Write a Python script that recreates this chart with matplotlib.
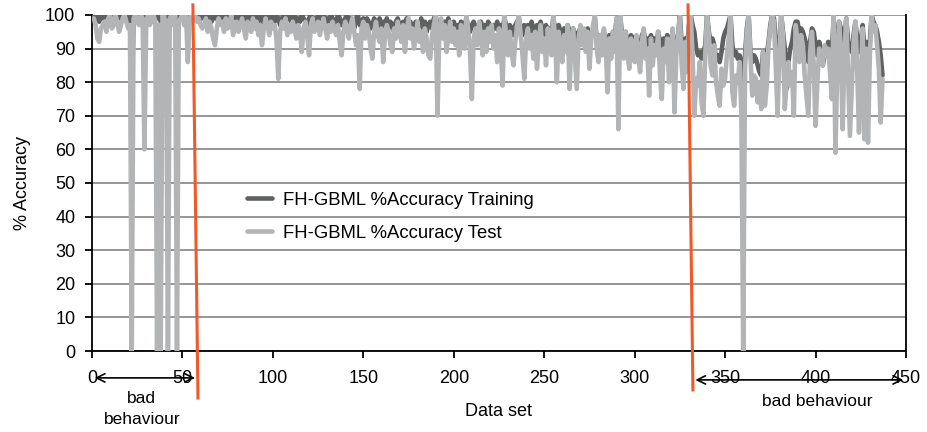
import numpy as np
import matplotlib
matplotlib.use('Agg')
import matplotlib.pyplot as plt

plt.rcParams['font.family'] = ['Liberation Sans', 'DejaVu Sans']

# %accuracy per data set, data sets 1..437
test = [99, 97, 93, 92, 96, 97, 98, 95, 99, 100,
        96, 97, 100, 98, 95, 97, 99, 100, 98, 96,
        97, 0, 99, 100, 98, 97, 100, 99, 60, 98,
        100, 97, 99, 100, 98, 0, 97, 0, 100, 99,
        98, 0, 99, 100, 97, 100, 0, 98, 99, 100,
        97, 100, 86, 98, 100, 99, 100, 98, 99, 97,
        96, 97, 99, 95, 98, 96, 93, 91, 96, 99,
        97, 98, 95, 99, 96, 97, 100, 94, 96, 98,
        95, 97, 99, 96, 93, 98, 97, 95, 99, 96,
        98, 94, 97, 91, 96, 99, 97, 94, 98, 96,
        97, 93, 81, 95, 98, 96, 99, 94, 97, 95,
        98, 96, 93, 97, 95, 89, 96, 98, 94, 88,
        97, 99, 95, 96, 98, 94, 97, 99, 96, 93,
        97, 95, 98, 96, 94, 97, 92, 88, 95, 98,
        96, 93, 97, 99, 95, 91, 94, 78, 96, 98,
        93, 97, 95, 90, 87, 95, 98, 94, 92, 96,
        86, 94, 97, 95, 91, 89, 96, 93, 98, 95,
        92, 97, 89, 95, 99, 93, 96, 90, 94, 98,
        92, 95, 89, 96, 93, 88, 87, 94, 97, 100,
        70, 95, 99, 93, 97, 89, 94, 98, 92, 96,
        91, 95, 88, 97, 93, 90, 100, 95, 89, 75,
        93, 96, 91, 98, 94, 88, 95, 89, 96, 92,
        97, 90, 94, 86, 96, 91, 79, 100, 93, 88,
        95, 89, 85, 92, 97, 100, 94, 88, 81, 93,
        96, 90, 94, 87, 95, 84, 92, 97, 89, 93,
        85, 96, 91, 88, 100, 93, 80, 95, 90, 86,
        94, 89, 97, 78, 92, 96, 87, 78, 93, 97,
        91, 96, 89, 95, 84, 93, 97, 100, 90, 86,
        94, 88, 96, 91, 77, 93, 87, 95, 89, 99,
        66, 100, 92, 87, 95, 89, 84, 93, 90, 86,
        94, 88, 83, 92, 96, 87, 90, 76, 93, 85,
        91, 88, 95, 82, 75, 90, 86, 93, 80, 89,
        96, 71, 88, 94, 100, 85, 78, 92, 83, 96,
        100, 88, 70, 81, 79, 86, 74, 70, 88, 100,
        94, 85, 82, 91, 80, 76, 73, 84, 79, 81,
        88, 93, 100, 77, 73, 82, 80, 86, 71, 0,
        84, 95, 100, 88, 76, 82, 81, 74, 80, 72,
        89, 73, 79, 91, 96, 100, 98, 85, 70, 88,
        100, 94, 72, 80, 86, 79, 83, 70, 97, 92,
        86, 94, 91, 82, 76, 70, 89, 95, 85, 67,
        80, 90, 87, 85, 91, 88, 90, 83, 75, 100,
        59, 85, 98, 88, 66, 90, 99, 82, 64, 78,
        92, 98, 84, 65, 80, 96, 63, 90, 62, 88,
        100, 95, 97, 91, 84, 68, 81]

train = [100, 99, 100, 98, 100, 99, 100, 100, 98, 99,
         100, 99, 98, 100, 99, 100, 100, 99, 100, 99,
         100, 76, 99, 100, 100, 98, 100, 99, 97, 100,
         100, 99, 100, 98, 100, 99, 100, 98, 100, 99,
         90, 99, 100, 98, 100, 99, 97, 100, 99, 100,
         99, 100, 98, 100, 99, 100, 99, 100, 98, 100,
         99, 100, 98, 99, 100, 98, 99, 100, 99, 98,
         100, 99, 98, 100, 99, 100, 98, 99, 100, 99,
         98, 100, 99, 98, 100, 99, 100, 98, 99, 100,
         99, 98, 100, 99, 97, 100, 99, 98, 100, 99,
         98, 100, 99, 97, 99, 100, 98, 99, 100, 98,
         99, 100, 97, 99, 98, 100, 99, 98, 97, 99,
         100, 98, 99, 97, 100, 98, 99, 100, 97, 99,
         98, 100, 99, 97, 98, 100, 99, 97, 98, 99,
         100, 97, 99, 98, 96, 99, 100, 97, 98, 99,
         97, 99, 98, 96, 97, 99, 98, 97, 99, 96,
         98, 97, 99, 96, 98, 97, 95, 98, 99, 97,
         96, 98, 97, 99, 96, 98, 95, 97, 98, 96,
         97, 99, 96, 98, 95, 97, 98, 96, 99, 100,
         96, 98, 97, 95, 98, 96, 99, 97, 95, 98,
         96, 97, 95, 98, 96, 97, 99, 96, 95, 97,
         98, 96, 97, 95, 98, 96, 97, 95, 98, 97,
         95, 97, 96, 98, 95, 97, 96, 99, 97, 95,
         97, 96, 94, 97, 98, 99, 96, 94, 97, 95,
         97, 95, 98, 96, 94, 97, 95, 98, 96, 94,
         97, 95, 96, 94, 99, 96, 94, 97, 95, 93,
         96, 94, 97, 95, 93, 96, 94, 92, 95, 96,
         94, 95, 93, 96, 91, 94, 95, 99, 93, 91,
         94, 92, 95, 93, 90, 94, 92, 95, 93, 99,
         92, 100, 94, 91, 95, 92, 90, 94, 93, 91,
         93, 91, 90, 94, 95, 92, 93, 90, 94, 91,
         93, 90, 95, 92, 89, 93, 91, 94, 90, 92,
         95, 90, 92, 94, 100, 91, 88, 93, 90, 97,
         100, 97, 95, 90, 88, 89, 87, 89, 91, 100,
         95, 92, 93, 91, 87, 88, 86, 89, 93, 95,
         96, 98, 100, 91, 88, 89, 87, 88, 86, 80,
         88, 96, 100, 89, 86, 88, 87, 85, 83, 82,
         89, 84, 88, 92, 97, 100, 99, 93, 90, 88,
         100, 95, 90, 78, 86, 90, 92, 96, 98, 98,
         95, 96, 95, 93, 91, 86, 92, 96, 95, 91,
         88, 92, 90, 85, 88, 90, 92, 88, 89, 99,
         88, 92, 98, 96, 90, 93, 99, 92, 90, 89,
         94, 98, 93, 89, 92, 97, 90, 92, 87, 92,
         100, 98, 97, 95, 92, 88, 82]

dataset = np.arange(1, len(test) + 1)

# slanted red separators and "bad behaviour" ranges (data units)
sep1_x, sep1_y = [55.8, 58.6], [103, -14]
sep2_x, sep2_y = [329.5, 332.2], [103, -11.6]
bad_left = (0, 58.5)
bad_right = (332, 450)

fig = plt.figure(figsize=(9.28, 4.32), dpi=100)
ax = fig.add_axes([0.0991, 0.1875, 0.8772, 0.7778])

ax.plot(dataset, train, color='#5f6161', lw=3.3, label='FH-GBML %Accuracy Training',
        zorder=3, solid_joinstyle='round', solid_capstyle='round')
ax.plot(dataset, test, color='#b3b4b5', lw=3.3, label='FH-GBML %Accuracy Test',
        zorder=4, solid_joinstyle='round', solid_capstyle='round')

ax.set_xlim(0, 450)
ax.set_ylim(0, 100)
ax.set_xticks(np.arange(0, 451, 50))
ax.set_yticks(np.arange(0, 101, 10))
ax.yaxis.grid(True, color='#8e8e8e', lw=1.3)
ax.set_axisbelow(True)
for s in ['left', 'bottom', 'right']:
    ax.spines[s].set_color('black')
    ax.spines[s].set_linewidth(1.3)
ax.spines['top'].set_visible(False)
ax.tick_params(axis='both', labelsize=13, direction='out', length=5, width=1.3)
ax.tick_params(axis='x', pad=9)
ax.tick_params(axis='y', pad=7)
ax.set_ylabel('% Accuracy', fontsize=13, labelpad=10)
ax.set_xlabel('Data set', fontsize=13, labelpad=11)

leg = ax.legend(loc='upper left', bbox_to_anchor=(0.17, 0.523), frameon=False, fontsize=13.3,
                handlelength=1.35, labelspacing=0.85, handletextpad=0.6)
for h in leg.get_lines():
    h.set_linewidth(3.3)

ax.plot(sep1_x, sep1_y, color='#f05a28', lw=2.2, clip_on=False, zorder=6)
ax.plot(sep2_x, sep2_y, color='#f05a28', lw=2.2, clip_on=False, zorder=6)

ax.annotate('', xy=(bad_left[0], -8), xytext=(bad_left[1], -8), annotation_clip=False,
            arrowprops=dict(arrowstyle='<->,head_length=0.6,head_width=0.3', color='black', lw=1.2))
ax.annotate('', xy=(bad_right[0], -8.6), xytext=(bad_right[1], -8.6), annotation_clip=False,
            arrowprops=dict(arrowstyle='<->,head_length=0.6,head_width=0.3', color='black', lw=1.2))
ax.text(27.6, -17.3, 'bad\nbehaviour', fontsize=12.5, ha='center', va='center', linespacing=1.45)
ax.text(400.8, -15, 'bad behaviour', fontsize=12.5, ha='center', va='center')

plt.savefig('out.png', dpi=100)
